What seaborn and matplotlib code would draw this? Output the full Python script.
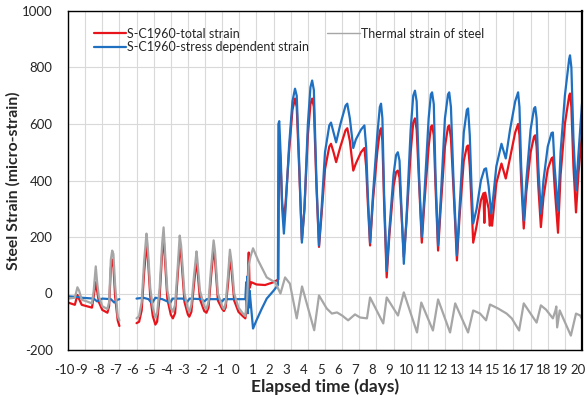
import numpy as np
import pandas as pd
import matplotlib
matplotlib.use("Agg")
import matplotlib.pyplot as plt
import matplotlib.transforms as mtransforms
import seaborn as sns
from matplotlib.lines import Line2D

nan = np.nan

# ---- Thermal strain of steel (gray) ----
thermal_t = [-10.0, -9.6, -9.45, -9.35, -9.2, -8.9, -8.6, -8.5, -8.38, -8.3, -8.2, -8.0, -7.7, -7.6, -7.5,
             -7.42, -7.35, -7.25, -7.1, -7.0, nan,
             -6.0, -5.85, -5.7, -5.55, -5.42, -5.35, -5.2, -5.05, -4.9, -4.8, -4.65, -4.5, -4.42, -4.35, -4.2,
             -4.0, -3.88, -3.75, -3.6, -3.48, -3.4, -3.2, -3.0, -2.92, -2.8, -2.65, -2.5, -2.45, -2.3, -2.05,
             -1.92, -1.8, -1.65, -1.5, -1.42, -1.25, -1.0, -0.9, -0.8, -0.65, -0.55, -0.45, -0.3, -0.05,
             0.2, 0.35, 0.45, 0.55, 0.65, 0.8, 1.1, 1.6, 2.1, 2.4, 2.67, 2.95, 3.35, 3.66, 4.37, 4.65,
             5.1, 5.4, 5.7, 6.0, 6.35, 6.75, 7.05, 7.45, 7.63, 8.4, 8.6, 9.26, 9.6, 10.37, 10.62, 11.3,
             11.6, 12.3, 12.6, 13.35, 13.65, 14.05, 14.4, 14.63, 15.1, 15.6, 15.9, 16.33, 16.6, 17.35,
             17.6, 17.9, 18.3, 18.45, 18.5, 18.55, 18.7, 19.35, 19.65, 19.9, 20.0]
thermal_v = [-18, -15, 22, 10, -22, -28, -35, 10, 96, 40, -10, -45, -55, -30, 120,
             152, 140, 30, -80, -95, nan,
             -88, -80, -30, 120, 212, 170, 20, -50, -85, -70, 20, 180, 234, 160, 10,
             -50, -65, -40, 90, 205, 170, 0, -55, -65, -40, 60, 149, 120, 10, -45,
             -55, -30, 90, 188, 150, 0, -45, -55, -35, 70, 155, 110, 0, -50,
             -70, -80, -20, 100, 130, 160, 117, 57, 39, 0, 57, 35, -88, 25, -130, -7,
             -53, -71, -67, -78, -95, -74, -85, -88, -14, -106, -14, -78, 4, -138, -32, -131,
             -21, -138, -35, -138, -60, -71, -95, -39, -53, -71, -88, -131, -35, -103,
             -42, -57, -88, -60, -46, -120, -60, -149, -71, -78, -90]

# ---- S-C1960 total strain (red) ----
total_t = [-10.0, -9.6, -9.45, -9.35, -9.2, -8.9, -8.6, -8.5, -8.38, -8.3, -8.2, -8.0, -7.7, -7.6, -7.5,
           -7.42, -7.35, -7.25, -7.1, -7.0, nan,
           -6.0, -5.85, -5.7, -5.55, -5.42, -5.35, -5.2, -5.05, -4.9, -4.8, -4.65, -4.5, -4.42, -4.35, -4.2,
           -4.0, -3.88, -3.75, -3.6, -3.48, -3.4, -3.2, -3.0, -2.92, -2.8, -2.65, -2.5, -2.45, -2.3, -2.05,
           -1.92, -1.8, -1.65, -1.5, -1.42, -1.25, -1.0, -0.9, -0.8, -0.65, -0.55, -0.45, -0.3, -0.05,
           0.2, 0.35, 0.45, 0.5, 0.55, 0.6, 0.7, 1.0, 1.5, 2.0, 2.28,
           2.32, 2.42, 2.5, 2.6, 2.7, 2.9, 3.1, 3.25, 3.35, 3.5, 3.65, 3.8, 4.0, 4.15, 4.25, 4.35, 4.5,
           4.65, 4.8, 5.0, 5.25, 5.35, 5.5, 5.65, 5.9, 6.2, 6.3, 6.45, 6.65, 6.8, 7.1, 7.3, 7.4, 7.5,
           7.63, 7.8, 8.05, 8.2, 8.27, 8.35, 8.45, 8.6, 8.75, 9.0, 9.15, 9.25, 9.35, 9.45, 9.6, 9.75,
           10.0, 10.15, 10.25, 10.35, 10.5, 10.65, 10.8, 11.05, 11.18, 11.25, 11.35, 11.45, 11.6, 11.75,
           12.0, 12.18, 12.25, 12.35, 12.5, 12.7, 12.85, 13.1, 13.28, 13.35, 13.45, 13.55, 13.65, 13.85,
           14.1, 14.25, 14.3, 14.35, 14.55, 14.62, 14.67, 14.75, 14.85, 15.0, 15.3, 15.55, 15.8, 16.1,
           16.27, 16.35, 16.45, 16.6, 16.75, 17.0, 17.2, 17.27, 17.35, 17.45, 17.6, 17.75, 18.0, 18.22,
           18.3, 18.4, 18.6, 18.75, 19.0, 19.25, 19.3, 19.38, 19.5, 19.65, 19.8, 20.0]
total_v = [-32, -40, -5, -20, -40, -45, -50, -10, 40, 10, -30, -58, -68, -45, 90,
           120, 100, -10, -95, -115, nan,
           -105, -100, -60, 80, 170, 140, -10, -80, -110, -100, -10, 150, 200, 130, -20,
           -75, -88, -70, 60, 165, 140, -30, -75, -82, -65, 30, 120, 90, -20, -62,
           -68, -50, 60, 160, 120, -25, -55, -62, -50, 40, 130, 80, -25, -65,
           -80, -88, -40, 60, 145, 20, 40, 32, 30, 40, 50,
           560, 440, 320, 265, 320, 500, 650, 690, 660, 430, 190, 300, 560, 670, 690, 660, 380,
           165, 280, 440, 520, 530, 500, 465, 520, 578, 585, 540, 435, 460, 500, 515, 450, 320,
           170, 330, 500, 575, 585, 540, 320, 57, 200, 380, 430, 435, 410, 300, 130, 250,
           500, 605, 620, 580, 380, 180, 320, 520, 590, 595, 560, 380, 152, 300,
           520, 590, 595, 550, 370, 117, 270, 470, 520, 524, 450, 320, 180, 240,
           330, 355, 250, 357, 300, 240, 280, 240, 300, 390, 460, 407, 480, 570,
           600, 560, 400, 230, 360, 500, 555, 560, 520, 380, 235, 340, 440, 478,
           482, 380, 215, 420, 600, 700, 708, 660, 450, 287, 430, 565]

# ---- S-C1960 stress dependent strain (blue) ----
stress_t = [-10.0, -9.5, -9.2, -8.5, -8.3, -8.0, -7.5, -7.3, -7.1, -7.0, nan,
            -6.0, -5.6, -5.3, -5.1, -4.9, -4.5, -4.2, -4.05, -3.9, -3.3, -3.05, -2.9, -2.2, -2.05,
            -1.9, -1.2, -1.0, -0.9, -0.2, 0.35, 0.4, 0.43, 0.46, 0.5, 0.53, 0.56, 0.6, 0.8, 1.0, 1.3,
            1.6, 2.0, 2.25, 2.28,
            2.33, 2.42, 2.5, 2.6, 2.7, 2.9, 3.1, 3.25, 3.35, 3.5, 3.65, 3.8, 4.0, 4.15, 4.25, 4.35, 4.5,
            4.65, 4.8, 5.0, 5.25, 5.35, 5.5, 5.65, 5.9, 6.2, 6.3, 6.45, 6.65, 6.8, 7.1, 7.3, 7.4, 7.5,
            7.63, 7.8, 8.05, 8.2, 8.27, 8.35, 8.45, 8.6, 8.75, 9.0, 9.15, 9.25, 9.35, 9.45, 9.6, 9.75,
            10.0, 10.15, 10.25, 10.35, 10.5, 10.65, 10.8, 11.05, 11.18, 11.25, 11.35, 11.45, 11.6, 11.75,
            12.0, 12.18, 12.25, 12.35, 12.5, 12.7, 12.85, 13.1, 13.28, 13.35, 13.45, 13.55, 13.65, 13.85,
            14.1, 14.3, 14.4, 14.55, 14.7, 14.8, 15.0, 15.3, 15.55, 15.8, 16.1, 16.27, 16.35, 16.45,
            16.6, 16.75, 17.0, 17.2, 17.27, 17.35, 17.45, 17.6, 17.75, 18.0, 18.22, 18.3, 18.4, 18.6,
            18.75, 19.0, 19.25, 19.3, 19.38, 19.5, 19.65, 19.8, 20.0]
stress_v = [-10, -12, -15, -18, -28, -18, -20, -32, -22, -20, nan,
            -18, -15, -20, -35, -15, -20, -28, -35, -18, -18, -30, -18, -20, -28,
            -20, -20, -28, -20, -20, -20, 40, -60, 60, -70, 80, -50, 10, -124, -95, -55,
            -18, 10, 30, 600,
            610, 480, 300, 212, 300, 520, 680, 725, 700, 450, 180, 300, 600, 730, 754, 720, 400,
            170, 300, 500, 595, 605, 570, 535, 600, 665, 672, 620, 515, 545, 580, 595, 520, 350,
            180, 350, 560, 660, 672, 620, 350, 80, 220, 420, 490, 500, 470, 320, 105, 260,
            580, 700, 718, 680, 400, 200, 350, 620, 705, 712, 670, 420, 170, 330,
            620, 705, 712, 660, 400, 135, 300, 570, 650, 655, 560, 380, 248, 300,
            400, 440, 443, 380, 283, 330, 450, 530, 478, 580, 680, 712, 660, 450,
            258, 400, 580, 655, 660, 620, 450, 283, 400, 520, 568, 570, 450, 293,
            500, 700, 830, 843, 800, 550, 365, 500, 672]

x_ticks = list(range(-10, 21))
y_ticks = [-200, 0, 200, 400, 600, 800, 1000]

labels = ["S-C1960-total strain", "S-C1960-stress dependent strain", "Thermal strain of steel"]
colors = ["#e8141b", "#1f70c1", "#a6a6a6"]


def to_frame(t, v, name):
    t = np.asarray(t, float)
    v = np.asarray(v, float)
    seg = np.cumsum(np.isnan(t))
    df = pd.DataFrame({"t": t, "v": v, "seg": seg, "series": name})
    return df.dropna()


df = pd.concat([
    to_frame(total_t, total_v, labels[0]),
    to_frame(stress_t, stress_v, labels[1]),
    to_frame(thermal_t, thermal_v, labels[2]),
])

sns.set_style("white")
plt.rcParams["font.family"] = ["Lato", "DejaVu Sans"]

fig = plt.figure(figsize=(5.87, 4.0), dpi=100)
ax = fig.add_axes([68 / 587, 1 - 350 / 400, (582 - 68) / 587, (350 - 11) / 400])

for name, col in zip(labels, colors):
    sub = df[df["series"] == name]
    sns.lineplot(data=sub, x="t", y="v", units="seg", estimator=None, sort=False,
                 color=col, lw=1.6, ax=ax, legend=False)

ax.set_xlim(-10, 20)
ax.set_ylim(-200, 1000)
ax.set_xticks(x_ticks)
ax.set_yticks(y_ticks)
ax.set_xticklabels([str(v) for v in x_ticks], fontsize=9.5)
ax.set_yticklabels([str(v) for v in y_ticks], fontsize=9.5)
ax.tick_params(axis="y", length=0, pad=11)
ax.tick_params(axis="x", length=0, pad=10)
shift = mtransforms.ScaledTranslation(-4 / 100, 0, fig.dpi_scale_trans)
for lab in ax.get_xticklabels():
    lab.set_transform(lab.get_transform() + shift)
ax.grid(True, color="#d9d9d9", lw=0.8)
ax.set_axisbelow(True)
for s in ax.spines.values():
    s.set_color("black")
    s.set_linewidth(1.0)
ax.spines["right"].set_linewidth(1.6)

ax.set_xlabel("Elapsed time (days)", fontsize=12.5, fontweight="bold", labelpad=2)
ax.set_ylabel("Steel Strain (micro-strain)", fontsize=11.3, fontweight="bold", labelpad=1)

handles = [Line2D([], [], color=colors[0], lw=1.6),
           Line2D([], [], color=colors[1], lw=1.6),
           Line2D([], [], color=colors[2], lw=1.0)]
ax.legend(handles, labels, ncol=2, frameon=False, fontsize=9, loc="upper left",
          bbox_to_anchor=(0.04, 0.965), handlelength=2.6, handletextpad=0.1,
          columnspacing=1.45, labelspacing=0.1, borderaxespad=0)

fig.savefig("out.png", dpi=100)
